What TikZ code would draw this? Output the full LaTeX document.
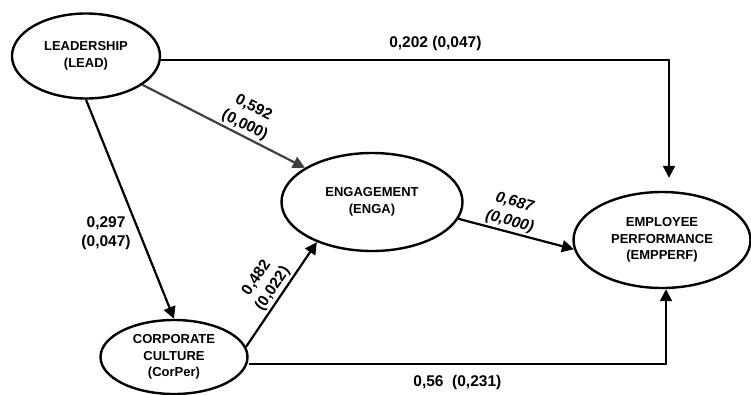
\documentclass[tikz,border=0pt]{standalone}
\usepackage{fontspec}
\setmainfont{Liberation Sans}
\usetikzlibrary{arrows.meta}
\usetikzlibrary{shapes.geometric}
\definecolor{arrowgray}{RGB}{64,64,64}

\begin{document}
\begin{tikzpicture}[x=1pt, y=-1pt,
  latent/.style={draw, ellipse, line width=2.4pt, inner sep=0pt, align=center,
    font=\bfseries\fontsize{13}{16.5}\selectfont},
  effect/.style={line width=2.2pt, -{Triangle[length=12pt,width=12pt]}},
  coef/.style={font=\bfseries\fontsize{15.5}{19.5}\selectfont, align=center, inner sep=2pt},
  coefit/.style={coef, font=\bfseries\itshape\fontsize{15.5}{19.5}\selectfont}]
\useasboundingbox (0,0) rectangle (751,394);
% constructs
\node[latent, minimum width=148pt, minimum height=85pt] (LEAD) at (86,56) {LEADERSHIP\\(LEAD)};
\node[latent, minimum width=181pt, minimum height=98pt] (ENGA) at (372,202) {ENGAGEMENT\\(ENGA)};
\node[latent, minimum width=177pt, minimum height=96pt] (EMPPERF) at (662,240) {EMPLOYEE\\PERFORMANCE\\(EMPPERF)};
\node[latent, minimum width=147pt, minimum height=74pt] (CorPer) at (174,357) {CORPORATE\\CULTURE\\(CorPer)};
% paths
\draw[effect] ([yshift=-4pt]LEAD.east) -| ([xshift=7pt,yshift=13pt]EMPPERF.north)
  node[coef, pos=0.27, above=6pt] (cLE) {0,202 (0,047)};
\draw[effect, draw=arrowgray] (LEAD) -- (ENGA)
  node[coef, pos=0.6, above, sloped] (cLG) {0,592\\(0,000)};
\draw[effect] (LEAD.south) -- (CorPer.north)
  node[coef, pos=0.61, left=6pt] (cLC) {0,297\\(0,047)};
\draw[effect] (CorPer.8) -- (ENGA.216)
  node[coef, pos=0.5, above, sloped] (cCG) {0,482\\(0,022)};
\draw[effect] (ENGA.-11) -- (EMPPERF.186)
  node[coefit, pos=0.42, above, sloped] (cGE) {0,687\\(0,000)};
\draw[effect] ([yshift=-7pt]CorPer.east) -| ([xshift=4pt]EMPPERF.south)
  node[coef, pos=0.25, below=8pt] (cCE) {0,56\ \ (0,231)};
\end{tikzpicture}
\end{document}
